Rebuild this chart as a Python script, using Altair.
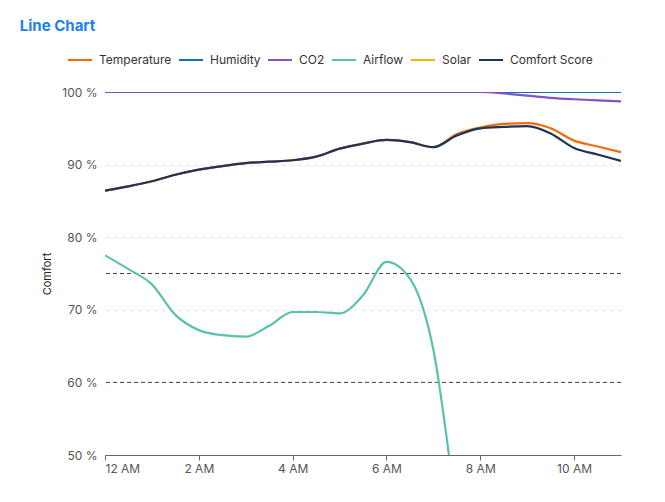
"""
Line chart: comfort metrics over the morning hours.
"""
import pandas as pd
import altair as alt

# Hours after midnight, every half hour.
hours = [0, 0.5, 1, 1.5, 2, 2.5, 3, 3.5, 4, 4.5, 5, 5.5,
         6, 6.5, 7, 7.5, 8, 8.5, 9, 9.5, 10, 10.5, 11]

temperature = [86.4, 87.0, 87.7, 88.6, 89.3, 89.8, 90.2, 90.4, 90.6, 91.1, 92.2, 92.9,
               93.4, 93.1, 92.4, 94.2, 95.1, 95.6, 95.7, 95.0, 93.3, 92.5, 91.7]
humidity = [100] * 23
co2 = [100, 100, 100, 100, 100, 100, 100, 100, 100, 100, 100, 100,
       100, 100, 100, 100, 100, 99.8, 99.5, 99.2, 99.0, 98.85, 98.7]
airflow = [77.5, 75.6, 73.5, 69.3, 67.2, 66.5, 66.3, 67.8, 69.7, 69.7, 69.5, 72.0,
           76.6, 74.3, 64.5, 42.0, 20.0, 15.0, 12.0, 10.0, 9.0, 8.0, 8.0]
solar = [0, 0, 0, 0, 0, 0, 0, 0, 0, 0, 2, 5,
         9, 13, 17, 21, 25, 29, 33, 37, 40, 43, 45]
comfort = [86.4, 87.0, 87.7, 88.6, 89.3, 89.8, 90.2, 90.4, 90.6, 91.1, 92.2, 92.9,
           93.4, 93.1, 92.4, 94.0, 95.0, 95.2, 95.3, 94.3, 92.3, 91.4, 90.5]

series = ["Temperature", "Humidity", "CO2", "Airflow", "Solar", "Comfort Score"]
colors = ["#ee6c0a", "#0a72b5", "#8352c8", "#5cc0ae", "#f4b400", "#1e3557"]
values = [temperature, humidity, co2, airflow, solar, comfort]

# Dashed threshold lines.
thresholds = [75, 60]

# Build long-form table.
rows = []
for name, vals in zip(series, values):
    for h, v in zip(hours, vals):
        rows.append({"hour": h, "value": v, "series": name})
data = pd.DataFrame(rows)
ruleData = pd.DataFrame({"threshold": thresholds})

font = "Inter"

xAxis = alt.X(
    "hour:Q",
    scale=alt.Scale(domain=[0, 11], nice=False, zero=False),
    axis=alt.Axis(
        values=[0, 2, 4, 6, 8, 10],
        labelExpr="(datum.value % 12 == 0 ? 12 : datum.value % 12) + (datum.value < 12 ? ' AM' : ' PM')",
        title=None, grid=False, domainColor="#666666", tickColor="#666666",
        tickSize=5, labelColor="#555555", labelFontSize=12, labelPadding=3,
        labelFont=font
    )
)
yAxis = alt.Y(
    "value:Q",
    scale=alt.Scale(domain=[50, 100], nice=False, zero=False),
    axis=alt.Axis(
        values=[50, 60, 70, 80, 90, 100],
        labelExpr="datum.value + ' %'",
        title="Comfort", titleFontWeight="normal", titleFontSize=11,
        titleColor="#222222", titlePadding=9, titleFont=font,
        domain=False, ticks=False, labelPadding=8,
        labelColor="#555555", labelFontSize=12, labelFont=font,
        gridColor="#e6e6e6", gridDash=[4, 4]
    )
)
colorScale = alt.Color(
    "series:N",
    scale=alt.Scale(domain=series, range=colors),
    legend=alt.Legend(
        title=None, orient="none", direction="horizontal", columns=6,
        legendX=-38, legendY=-45, symbolType="stroke", symbolSize=576,
        symbolStrokeWidth=2, labelFontSize=12, labelColor="#333333",
        labelFont=font, labelOffset=6, columnPadding=3, padding=0
    )
)

# Threshold rules under the lines.
rules = alt.Chart(ruleData).mark_rule(
    color="#444444", strokeDash=[4, 3], strokeWidth=1
).encode(
    y=alt.Y("threshold:Q", scale=alt.Scale(domain=[50, 100]))
)

# One layer per series so the drawing order is fixed.
layers = [rules]
for name in series:
    layers.append(
        alt.Chart(data).transform_filter(
            alt.datum.series == name
        ).mark_line(interpolate="monotone", strokeWidth=2.2, clip=True).encode(
            x=xAxis, y=yAxis, color=colorScale
        )
    )

chart = alt.layer(*layers).properties(
    width=516,
    height=363,
    autosize=alt.AutoSizeParams(type="none"),
    padding={"left": 97, "top": 84, "right": 36, "bottom": 39},
    background="white",
    title=alt.TitleParams(
        "Line Chart", anchor="start", font=font, fontSize=15,
        fontWeight="bold", color="#1a7ff0", dx=-22, dy=-9
    )
).configure_view(stroke=None)

chart.save("out.html", embed_options={"renderer": "svg", "actions": False})
